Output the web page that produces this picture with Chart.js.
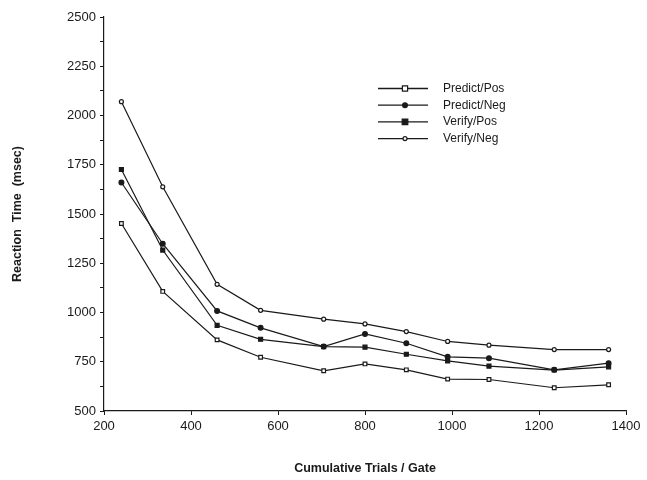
<!DOCTYPE html>
<html lang="en">
<head>
    <meta charset="UTF-8">
    <title>Reaction Time by Cumulative Trials</title>
    <script src="https://cdn.jsdelivr.net/npm/chart.js@4/dist/chart.umd.min.js"></script>
    <style>
        html, body {
            margin: 0;
            padding: 0;
            background-color: #fff;
        }
        .chart-box {
            position: relative;
            width: 647px;
            height: 480px;
        }
    </style>
</head>
<body>
    <div class="chart-box">
        <canvas id="rtChart" width="647" height="480"></canvas>
    </div>

    <script>
        // data
        const trials = [240, 335, 460, 560, 705, 800, 895, 990, 1085, 1235, 1360];
        const predictPos = [1452, 1107, 861, 773, 704, 739, 709, 662, 660, 618, 633];
        const predictNeg = [1660, 1349, 1008, 922, 827, 891, 844, 775, 768, 709, 743];
        const verifyPos = [1726, 1317, 935, 864, 827, 824, 788, 754, 728, 708, 724];
        const verifyNeg = [2070, 1638, 1143, 1011, 966, 942, 903, 853, 834, 812, 812];

        const xTicks = [200, 400, 600, 800, 1000, 1200, 1400];
        const yTicks = [500, 750, 1000, 1250, 1500, 1750, 2000, 2250, 2500];

        const seriesNames = ['Predict/Pos', 'Predict/Neg', 'Verify/Pos', 'Verify/Neg'];

        function toPoints(values) {
            return values.map((v, i) => ({ x: trials[i], y: v }));
        }

        const ink = '#1a1a1a';
        const tickFont = { family: 'Liberation Sans, Arial, sans-serif', size: 13 };
        const titleFont = { family: 'Liberation Sans, Arial, sans-serif', size: 12.5, weight: 'bold' };

        // line + marker legend drawn inside the plot, like the original figure
        const lineLegend = {
            id: 'lineLegend',
            afterDraw(chart) {
                const ctx = chart.ctx;
                const x0 = 378, x1 = 428, xm = 405, xt = 443;
                let y = 88.5;
                ctx.save();
                chart.data.datasets.forEach(ds => {
                    ctx.strokeStyle = ink;
                    ctx.lineWidth = 1.3;
                    ctx.beginPath();
                    ctx.moveTo(x0, y);
                    ctx.lineTo(x1, y);
                    ctx.stroke();
                    ctx.fillStyle = ds.pointBackgroundColor;
                    ctx.lineWidth = ds.pointBorderWidth;
                    ctx.beginPath();
                    if (ds.pointStyle === 'rect') {
                        const r = ds.pointRadius;
                        ctx.rect(xm - r, y - r, r * 2, r * 2);
                    } else {
                        ctx.arc(xm, y, ds.pointRadius, 0, Math.PI * 2);
                    }
                    ctx.fill();
                    ctx.stroke();
                    ctx.fillStyle = ink;
                    ctx.font = '12px Liberation Sans, Arial, sans-serif';
                    ctx.textBaseline = 'middle';
                    ctx.fillText(ds.label, xt, y);
                    y += 16.7;
                });
                ctx.restore();
            }
        };

        function makeSet(label, values, style, fill, radius) {
            return {
                label: label,
                data: toPoints(values),
                showLine: true,
                borderColor: ink,
                borderWidth: 1.2,
                pointStyle: style,
                pointRadius: radius,
                pointBorderWidth: 1.2,
                pointBorderColor: ink,
                pointBackgroundColor: fill,
                tension: 0
            };
        }

        const ctx = document.getElementById('rtChart').getContext('2d');
        new Chart(ctx, {
            type: 'scatter',
            data: {
                datasets: [
                    makeSet(seriesNames[0], predictPos, 'rect', '#fff', 2.6),
                    makeSet(seriesNames[1], predictNeg, 'circle', ink, 2.4),
                    makeSet(seriesNames[2], verifyPos, 'rect', ink, 2.8),
                    makeSet(seriesNames[3], verifyNeg, 'circle', '#fff', 2.0)
                ]
            },
            options: {
                responsive: false,
                animation: false,
                layout: { padding: { top: 17, right: 21, left: 6, bottom: 0 } },
                plugins: {
                    legend: { display: false },
                    tooltip: { enabled: false }
                },
                scales: {
                    x: {
                        type: 'linear',
                        min: xTicks[0],
                        max: xTicks[xTicks.length - 1],
                        afterBuildTicks: axis => { axis.ticks = xTicks.map(v => ({ value: v })); },
                        afterFit: axis => { axis.height = 69; },
                        border: { display: true, color: ink, width: 1.2 },
                        grid: { drawOnChartArea: false, color: ink, tickLength: 4 },
                        ticks: { color: ink, font: tickFont, padding: 4, callback: v => String(v) },
                        title: {
                            display: true,
                            text: 'Cumulative Trials / Gate',
                            color: ink,
                            font: titleFont,
                            padding: { top: 22 }
                        }
                    },
                    y: {
                        min: yTicks[0],
                        max: yTicks[yTicks.length - 1],
                        afterBuildTicks: axis => {
                            const t = [];
                            yTicks.forEach((v, i) => {
                                t.push({ value: v });
                                if (i < yTicks.length - 1) t.push({ value: v + 125 });
                            });
                            axis.ticks = t;
                        },
                        afterFit: axis => { axis.width = 98; },
                        border: { display: true, color: ink, width: 1.2 },
                        grid: { drawOnChartArea: false, color: ink, tickLength: 4 },
                        ticks: {
                            color: ink,
                            font: tickFont,
                            padding: 4,
                            callback: v => (yTicks.includes(v) ? String(v) : '')
                        },
                        title: {
                            display: true,
                            text: 'Reaction  Time  (msec)',
                            color: ink,
                            font: titleFont,
                            padding: { bottom: 20 }
                        }
                    }
                }
            },
            plugins: [lineLegend]
        });
    </script>
</body>
</html>
